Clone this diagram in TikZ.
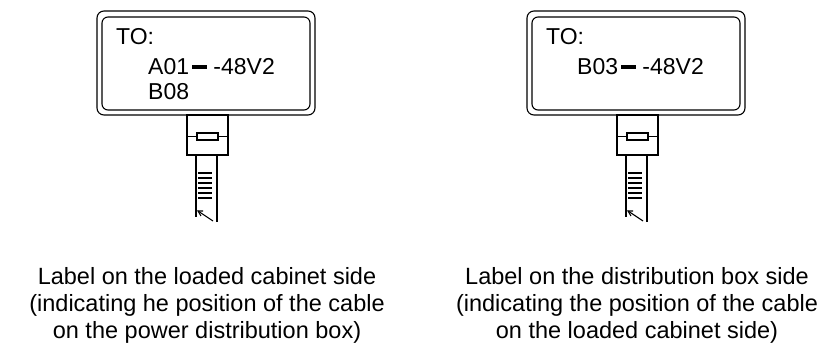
\documentclass[tikz,border=0pt]{standalone}
\usepackage{fontspec}
\setmainfont{Liberation Sans}
\newcommand\blkbar{\rule[0.26em]{0.65em}{0.18em}}
\tikzset{
  ln/.style={line width=1.1pt, line join=miter},
  lbl/.style={font=\fontsize{23}{27}\selectfont, anchor=base west, inner sep=0pt},
  captxt/.style={font=\fontsize{23.5}{27}\selectfont, anchor=base, inner sep=0pt},
}
\begin{document}
\begin{tikzpicture}[x=1pt,y=-1pt]
\useasboundingbox (0,0) rectangle (825,347);
\foreach \dx in {0,430}{
\begin{scope}[xshift=\dx pt]
  % double border of the label
  \draw[ln, rounded corners=7pt] (97,11) rectangle (315,115);
  \draw[ln, rounded corners=6pt] (102,17) rectangle (310,110);
  % clamp of the tie
  \draw[ln] (187,115) rectangle (228,155);
  \draw[ln] (187,136.5) -- (197,136.5);
  \draw[ln] (218,136.5) -- (228,136.5);
  \draw[ln] (197,133) rectangle (218,140);
  % strap
  \draw[ln] (196,155) -- (196,217);
  \draw[ln] (217,155) -- (217,222);
  \foreach \yy in {173,178,...,198}{
    \draw[ln] (198,\yy) -- (212,\yy);
  }
  \draw[ln] (198,211) -- (213,221);
  \draw[ln] (203,211) -- (198,211) -- (201,216);
\end{scope}
}
\node[lbl] (toL) at (116,45) {TO:};
\node[lbl] (codeL) at (148,75) {A01\kern3pt\blkbar\ -48V2};
\node[lbl] (codeL2) at (148,100) {B08};
\node[lbl] (toR) at (546,45) {TO:};
\node[lbl] (codeR) at (577,75) {B03\kern3pt\blkbar\ -48V2};

\node[captxt] (capL1) at (207,285) {Label on the loaded cabinet side};
\node[captxt] (capL2) at (207,312) {(indicating he position of the cable};
\node[captxt] (capL3) at (207,339) {on the power distribution box)};
\node[captxt] (capR1) at (637,285) {Label on the distribution box side};
\node[captxt] (capR2) at (637,312) {(indicating the position of the cable};
\node[captxt] (capR3) at (637,339) {on the loaded cabinet side)};
\end{tikzpicture}
\end{document}
